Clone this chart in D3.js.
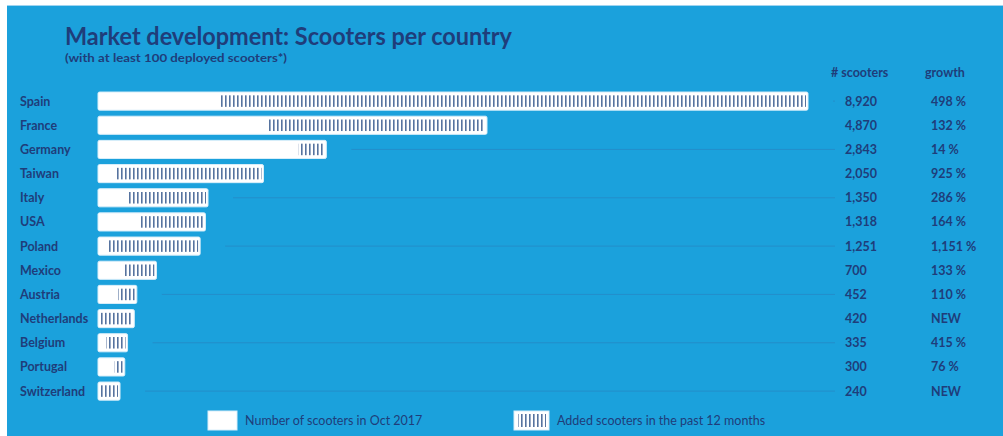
<!DOCTYPE html>
<html>
<head>
<meta charset="utf-8">
<script src="https://cdn.jsdelivr.net/npm/d3@7"></script>
<style>
  html, body { margin: 0; padding: 0; background: #ffffff; }
  svg { display: block; }
  text { font-family: Lato, "Open Sans", sans-serif; fill: #1f3d7a; }
</style>
</head>
<body>
<svg id="chart" width="1003" height="436"></svg>
<script>
// Scooter fleet per country, Oct 2017
const countries = ["Spain", "France", "Germany", "Taiwan", "Italy", "USA", "Poland",
  "Mexico", "Austria", "Netherlands", "Belgium", "Portugal", "Switzerland"];
const scooters = [8920, 4870, 2843, 2050, 1350, 1318, 1251, 700, 452, 420, 335, 300, 240];
// growth over the past 12 months in %, null = new market
const growth = [498, 132, 14, 925, 286, 164, 1151, 133, 110, null, 415, 76, null];

const fmtNum = d3.format(",");
const growthLabel = g => g === null ? "NEW" : fmtNum(g) + " %";

const W = 1003, H = 436;
const svg = d3.select("#chart");

// blue panel
svg.append("rect").attr("x", 7).attr("y", 5).attr("width", W - 7).attr("height", H - 5)
  .attr("fill", "#1ba1dc");
svg.append("line").attr("x1", 7).attr("x2", W).attr("y1", 5.5).attr("y2", 5.5)
  .attr("stroke", "#9fd4f0").attr("stroke-width", 1);

// hatch pattern for added scooters
const defs = svg.append("defs");
const pat = defs.append("pattern").attr("id", "hatch")
  .attr("patternUnits", "userSpaceOnUse").attr("width", 4).attr("height", 8);
pat.append("rect").attr("width", 4).attr("height", 8).attr("fill", "#ffffff");
pat.append("rect").attr("x", 1).attr("width", 1.6).attr("height", 8).attr("fill", "#56739f");

// scales
const x = d3.scaleLinear().domain([0, d3.max(scooters)]).range([101, 808]);
const y = d3.scaleBand().domain(countries).range([86, 406.2]).padding(0.25);
const bh = y.bandwidth();
const barLeft = 98;

// title
svg.append("text").attr("x", 65).attr("y", 45)
  .attr("font-size", 25).attr("font-weight", 700)
  .attr("textLength", 447).attr("lengthAdjust", "spacingAndGlyphs")
  .text("Market development: Scooters per country");
svg.append("text").attr("x", 65).attr("y", 62)
  .attr("font-size", 11.5).attr("font-weight", 700)
  .attr("textLength", 222).attr("lengthAdjust", "spacingAndGlyphs")
  .text("(with at least 100 deployed scooters*)");

// column headers
svg.append("text").attr("x", 831).attr("y", 77).attr("font-size", 12.5).attr("font-weight", 700)
  .text("# scooters");
svg.append("text").attr("x", 925).attr("y", 77).attr("font-size", 12.5).attr("font-weight", 700)
  .text("growth");

const rows = svg.append("g").selectAll("g")
  .data(countries.map((c, i) => ({ c, v: scooters[i], g: growth[i], i })))
  .join("g");

// guide lines on every other row
rows.filter(d => d.i % 2 === 0).append("line")
  .attr("x1", d => x(d.v) + 25).attr("x2", 835)
  .attr("y1", d => y(d.c) + bh / 2).attr("y2", d => y(d.c) + bh / 2)
  .attr("stroke", "#2a80bb").attr("stroke-opacity", 0.55).attr("stroke-width", 1);

// country labels
rows.append("text").attr("x", 20).attr("y", d => y(d.c) + bh / 2 + 4.5)
  .attr("font-size", 12.5).attr("font-weight", 700).text(d => d.c);

// white bar: total fleet
rows.append("rect")
  .attr("x", barLeft).attr("y", d => y(d.c))
  .attr("width", d => x(d.v) - barLeft).attr("height", bh)
  .attr("rx", 1.5)
  .attr("fill", "#ffffff").attr("stroke", "#d8eefa").attr("stroke-width", 1);

// hatched part: scooters added in the past 12 months
const base = d => d.g === null ? 0 : d.v / (1 + d.g / 100);
rows.append("rect")
  .attr("x", d => Math.max(x(base(d)), barLeft + 3))
  .attr("y", d => y(d.c) + 3.3)
  .attr("width", d => x(d.v) - 2 - Math.max(x(base(d)), barLeft + 3))
  .attr("height", bh - 6.6)
  .attr("fill", "url(#hatch)");

// value columns
rows.append("text").attr("x", 845).attr("y", d => y(d.c) + bh / 2 + 4.5)
  .attr("font-size", 12.5).attr("font-weight", 700).text(d => fmtNum(d.v));
rows.append("text").attr("x", 931).attr("y", d => y(d.c) + bh / 2 + 4.5)
  .attr("font-size", 12.5).attr("font-weight", 700).text(d => growthLabel(d.g));

// legend
const leg = svg.append("g");
leg.append("rect").attr("x", 208).attr("y", 411).attr("width", 29).attr("height", 19)
  .attr("fill", "#ffffff").attr("stroke", "#d8eefa");
leg.append("text").attr("x", 245).attr("y", 425).attr("font-size", 12.5)
  .text("Number of scooters in Oct 2017");
leg.append("rect").attr("x", 514).attr("y", 411).attr("width", 35).attr("height", 19)
  .attr("fill", "#ffffff").attr("stroke", "#d8eefa");
leg.append("rect").attr("x", 518).attr("y", 414).attr("width", 28).attr("height", 13)
  .attr("fill", "url(#hatch)");
leg.append("text").attr("x", 557).attr("y", 425).attr("font-size", 12.5)
  .text("Added scooters in the past 12 months");
</script>
</body>
</html>
